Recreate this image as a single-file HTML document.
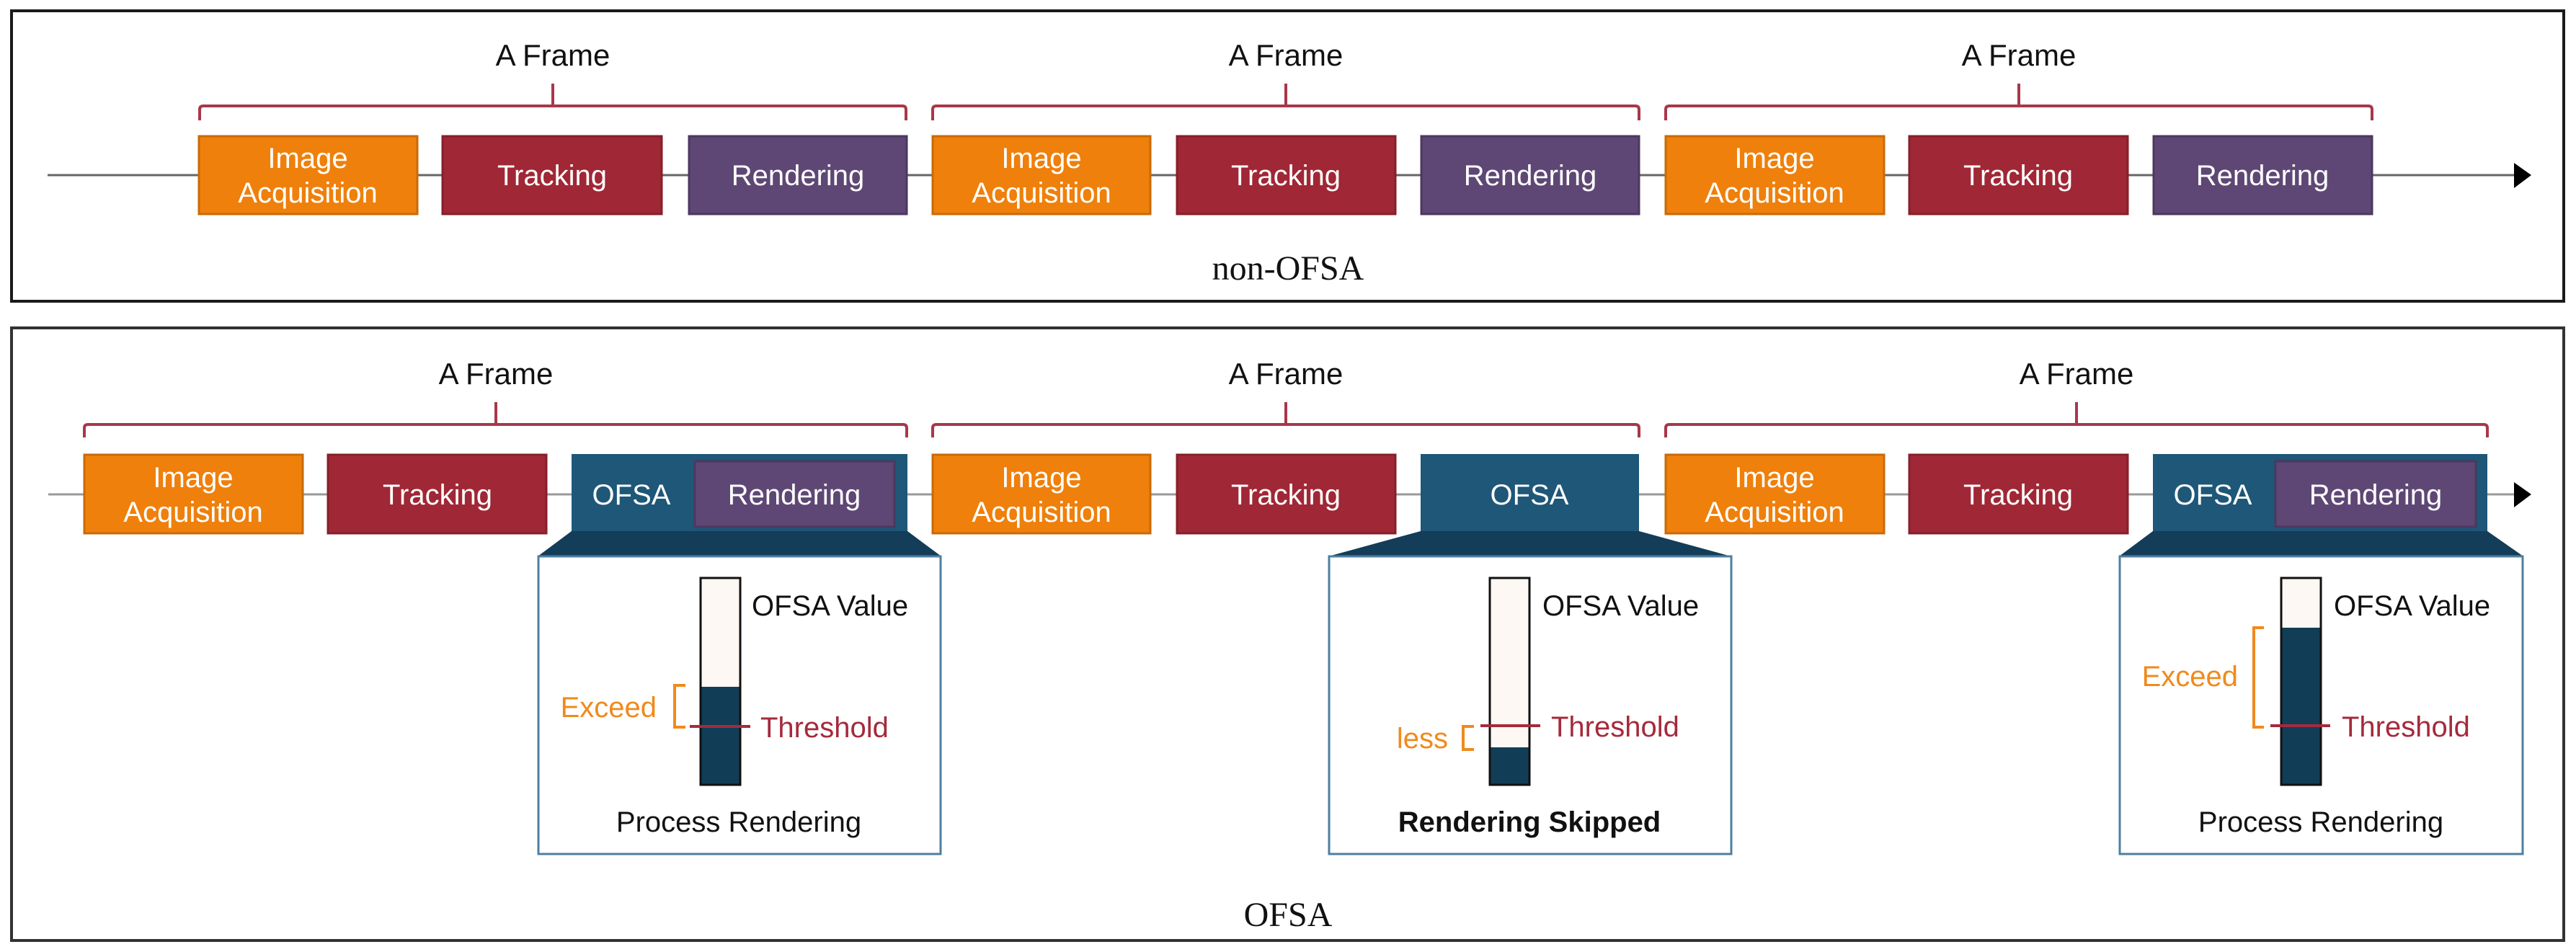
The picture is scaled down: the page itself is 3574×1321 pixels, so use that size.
<!DOCTYPE html>
<html><head><meta charset="utf-8"><style>html,body{margin:0;padding:0;background:#fff}svg{display:block}</style></head>
<body>
<svg width="3574" height="1321" viewBox="0 0 3574 1321" xmlns="http://www.w3.org/2000/svg" font-family="'Liberation Sans', 'DejaVu Sans', sans-serif">
<defs>
<g id="bar"></g>
</defs>
<!-- panels -->
<rect x="16" y="15" width="3541" height="403" fill="#fff" stroke="#1a1a1a" stroke-width="4"/>
<rect x="16" y="455" width="3541" height="850" fill="#fff" stroke="#333" stroke-width="4"/>

<!-- ===== TOP ===== -->
<line x1="66" y1="243" x2="3492" y2="243" stroke="#666" stroke-width="3"/>
<polygon points="3488,226 3512,243 3488,261" fill="#000"/>
<g fill="none" stroke="#a8384a" stroke-width="4">
<path d="M277,167 V152 Q277,147 282,147 H1252 Q1257,147 1257,152 V167 M767,147 V116"/>
<path d="M1294,167 V152 Q1294,147 1299,147 H2269 Q2274,147 2274,152 V167 M1784,147 V116"/>
<path d="M2311,167 V152 Q2311,147 2316,147 H3286 Q3291,147 3291,152 V167 M2801,147 V116"/>
</g>
<g font-size="42" text-anchor="middle" fill="#111">
<text x="767" y="91">A Frame</text><text x="1784" y="91">A Frame</text><text x="2801" y="91">A Frame</text>
</g>
<g stroke-width="3">
<rect x="276" y="189" width="303" height="108" fill="#ef800b" stroke="#c96a08"/>
<rect x="614" y="189" width="304" height="108" fill="#a02735" stroke="#861f2c"/>
<rect x="956" y="189" width="302" height="108" fill="#5e4775" stroke="#4b385f"/>
<rect x="1294" y="189" width="302" height="108" fill="#ef800b" stroke="#c96a08"/>
<rect x="1633" y="189" width="303" height="108" fill="#a02735" stroke="#861f2c"/>
<rect x="1972" y="189" width="302" height="108" fill="#5e4775" stroke="#4b385f"/>
<rect x="2311" y="189" width="303" height="108" fill="#ef800b" stroke="#c96a08"/>
<rect x="2649" y="189" width="303" height="108" fill="#a02735" stroke="#861f2c"/>
<rect x="2988" y="189" width="303" height="108" fill="#5e4775" stroke="#4b385f"/>
</g>
<g font-size="40" text-anchor="middle" fill="#fff">
<text x="427" y="233">Image</text><text x="427" y="281">Acquisition</text>
<text x="766" y="257">Tracking</text><text x="1107" y="257">Rendering</text>
<text x="1445" y="233">Image</text><text x="1445" y="281">Acquisition</text>
<text x="1784" y="257">Tracking</text><text x="2123" y="257">Rendering</text>
<text x="2462" y="233">Image</text><text x="2462" y="281">Acquisition</text>
<text x="2800" y="257">Tracking</text><text x="3139" y="257">Rendering</text>
</g>
<text x="1787" y="388" font-family="'Liberation Serif', serif" font-size="48" text-anchor="middle" fill="#111">non-OFSA</text>

<!-- ===== BOTTOM ===== -->
<line x1="67" y1="686" x2="3492" y2="686" stroke="#999" stroke-width="3"/>
<polygon points="3488,669 3512,686 3488,704" fill="#000"/>
<g fill="none" stroke="#a8384a" stroke-width="4">
<path d="M117,607 V594 Q117,589 122,589 H1253 Q1258,589 1258,594 V607 M688,589 V558"/>
<path d="M1294,607 V594 Q1294,589 1299,589 H2269 Q2274,589 2274,594 V607 M1784,589 V558"/>
<path d="M2311,607 V594 Q2311,589 2316,589 H3446 Q3451,589 3451,594 V607 M2881,589 V558"/>
</g>
<g font-size="42" text-anchor="middle" fill="#111">
<text x="688" y="533">A Frame</text><text x="1784" y="533">A Frame</text><text x="2881" y="533">A Frame</text>
</g>
<g stroke-width="3">
<rect x="117" y="631" width="303" height="109" fill="#ef800b" stroke="#c96a08"/>
<rect x="455" y="631" width="303" height="109" fill="#a02735" stroke="#861f2c"/>
<rect x="1294" y="631" width="302" height="109" fill="#ef800b" stroke="#c96a08"/>
<rect x="1633" y="631" width="303" height="109" fill="#a02735" stroke="#861f2c"/>
<rect x="2311" y="631" width="303" height="109" fill="#ef800b" stroke="#c96a08"/>
<rect x="2649" y="631" width="303" height="109" fill="#a02735" stroke="#861f2c"/>
</g>
<!-- OFSA boxes + trapezoids + panels -->
<g>
<rect x="793" y="630" width="466" height="108" fill="#1e5778"/>
<polygon points="793,737 1259,737 1306,772 746,772" fill="#133d58"/>
<rect x="964" y="640" width="277" height="91" fill="#5e4775" stroke="#4b385f" stroke-width="3"/>
<rect x="747" y="772" width="558" height="413" fill="#fff" stroke="#4d7fa0" stroke-width="3"/>

<rect x="1971" y="630" width="303" height="108" fill="#1e5778"/>
<polygon points="1971,737 2274,737 2402,772 1843,772" fill="#133d58"/>
<rect x="1844" y="772" width="558" height="413" fill="#fff" stroke="#4d7fa0" stroke-width="3"/>

<rect x="2987" y="630" width="464" height="108" fill="#1e5778"/>
<polygon points="2987,737 3451,737 3501,772 2940,772" fill="#133d58"/>
<rect x="3157" y="640" width="278" height="91" fill="#5e4775" stroke="#4b385f" stroke-width="3"/>
<rect x="2941" y="772" width="559" height="413" fill="#fff" stroke="#4d7fa0" stroke-width="3"/>
</g>
<g font-size="40" text-anchor="middle" fill="#fff">
<text x="268" y="676">Image</text><text x="268" y="724">Acquisition</text>
<text x="607" y="700">Tracking</text>
<text x="876" y="700">OFSA</text><text x="1102" y="700">Rendering</text>
<text x="1445" y="676">Image</text><text x="1445" y="724">Acquisition</text>
<text x="1784" y="700">Tracking</text>
<text x="2122" y="700">OFSA</text>
<text x="2462" y="676">Image</text><text x="2462" y="724">Acquisition</text>
<text x="2800" y="700">Tracking</text>
<text x="3070" y="700">OFSA</text><text x="3296" y="700">Rendering</text>
</g>

<!-- bar 1 -->
<rect x="972" y="802" width="55" height="287" fill="#fdf8f3" stroke="#111" stroke-width="3"/>
<rect x="973.5" y="953" width="52" height="134.5" fill="#123d56"/>
<line x1="957" y1="1008" x2="1041" y2="1008" stroke="#a52a3c" stroke-width="4"/>
<path d="M951,951 H936 V1009 H951" fill="none" stroke="#f08a1c" stroke-width="4"/>
<text x="911" y="995" font-size="40" text-anchor="end" fill="#f08a1c">Exceed</text>
<text x="1055" y="1023" font-size="40" fill="#a52a3c">Threshold</text>
<text x="1043" y="854" font-size="40" fill="#111">OFSA Value</text>
<text x="1025" y="1154" font-size="40" text-anchor="middle" fill="#111">Process Rendering</text>

<!-- bar 2 -->
<rect x="2067" y="802" width="55" height="287" fill="#fdf8f3" stroke="#111" stroke-width="3"/>
<rect x="2068.5" y="1037" width="52" height="50.5" fill="#123d56"/>
<line x1="2054" y1="1007" x2="2137" y2="1007" stroke="#a52a3c" stroke-width="4"/>
<path d="M2045,1008 H2030 V1040 H2045" fill="none" stroke="#f08a1c" stroke-width="4"/>
<text x="2009" y="1038" font-size="40" text-anchor="end" fill="#f08a1c">less</text>
<text x="2152" y="1022" font-size="40" fill="#a52a3c">Threshold</text>
<text x="2140" y="854" font-size="40" fill="#111">OFSA Value</text>
<text x="2122" y="1154" font-size="40" font-weight="bold" text-anchor="middle" fill="#111">Rendering Skipped</text>

<!-- bar 3 -->
<rect x="3165" y="802" width="55" height="287" fill="#fdf8f3" stroke="#111" stroke-width="3"/>
<rect x="3166.5" y="871" width="52" height="216.5" fill="#123d56"/>
<line x1="3150" y1="1007" x2="3233" y2="1007" stroke="#a52a3c" stroke-width="4"/>
<path d="M3141,871 H3127 V1009 H3141" fill="none" stroke="#f08a1c" stroke-width="4"/>
<text x="3105" y="952" font-size="40" text-anchor="end" fill="#f08a1c">Exceed</text>
<text x="3249" y="1022" font-size="40" fill="#a52a3c">Threshold</text>
<text x="3238" y="854" font-size="40" fill="#111">OFSA Value</text>
<text x="3220" y="1154" font-size="40" text-anchor="middle" fill="#111">Process Rendering</text>

<text x="1787" y="1285" font-family="'Liberation Serif', serif" font-size="48" text-anchor="middle" fill="#111">OFSA</text>
</svg>
</body></html>
